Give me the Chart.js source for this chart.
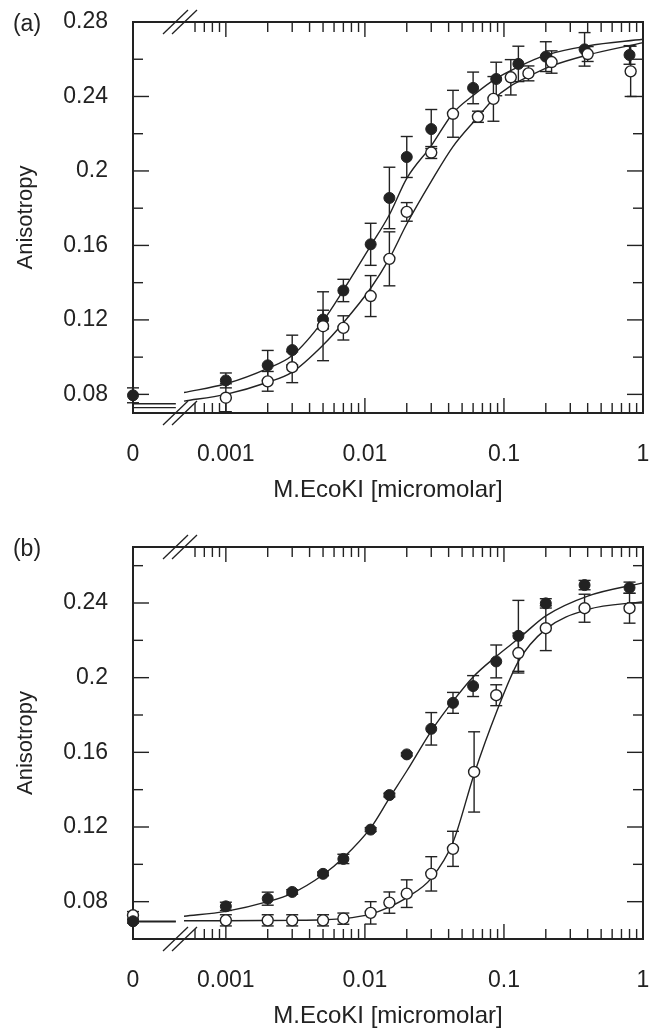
<!DOCTYPE html>
<html>
<head>
<meta charset="utf-8">
<script src="https://cdn.jsdelivr.net/npm/chart.js@4.4.1/dist/chart.umd.min.js"></script>
<style>
  html, body { margin: 0; padding: 0; background: #fff; }
  canvas { display: block; }
</style>
</head>
<body>
<canvas id="panelA" width="650" height="514"></canvas>
<canvas id="panelB" width="650" height="514"></canvas>
<script>
// anisotropy vs M.EcoKI concentration, two titrations (a) and (b)
var ink = '#222';
var fontFamily = "'Liberation Sans', Arial, Helvetica, sans-serif";

// x axis: the zero point gets its own short axis, the rest is log
var logMin = 0.0005, logMax = 1;
var xMajor = [0.001, 0.01, 0.1, 1];
var xMinorSteps = [2, 3, 4, 5, 6, 7, 8, 9];
var zeroLineEnd = 0.84; // fitted baseline at 0 stops here (x0 axis units)

// ---- panel (a) ----
var filledConcA = [0, 0.001, 0.002, 0.003, 0.005, 0.007, 0.011, 0.015, 0.02, 0.03, 0.06, 0.088, 0.127, 0.2, 0.38, 0.8];
var filledValA  = [0.0795, 0.0875, 0.0956, 0.1038, 0.1202, 0.1358, 0.1606, 0.1855, 0.2075, 0.2225, 0.2446, 0.2494, 0.2575, 0.2614, 0.2653, 0.2623];
var filledErrA  = [0.004, 0.004, 0.008, 0.008, 0.005, 0.006, 0.0113, 0.0165, 0.011, 0.0105, 0.0085, 0.009, 0.0095, 0.008, 0.009, 0.005];

var openConcA = [0.001, 0.002, 0.003, 0.005, 0.007, 0.011, 0.015, 0.02, 0.03, 0.043, 0.065, 0.084, 0.112, 0.15, 0.22, 0.4, 0.815];
var openValA  = [0.0782, 0.087, 0.0946, 0.1166, 0.1157, 0.1328, 0.1528, 0.178, 0.2099, 0.2307, 0.2291, 0.2387, 0.2503, 0.2524, 0.2585, 0.2628, 0.2535];
var openErrA  = [0.0075, 0.0053, 0.0083, 0.0185, 0.0065, 0.011, 0.0145, 0.005, 0.0032, 0.0126, 0.003, 0.012, 0.0095, 0.004, 0.006, 0.004, 0.0135];

var fitFilledConcA = [0.0005, 0.001, 0.002, 0.003, 0.005, 0.007, 0.011, 0.015, 0.02, 0.03, 0.043, 0.06, 0.088, 0.13, 0.2, 0.4, 1];
var fitFilledValA  = [0.081, 0.0857, 0.094, 0.1009, 0.1195, 0.136, 0.1598, 0.1765, 0.196, 0.2135, 0.231, 0.2405, 0.2497, 0.2563, 0.2622, 0.2672, 0.2707];
var fitOpenConcA = [0.0005, 0.001, 0.002, 0.003, 0.005, 0.007, 0.011, 0.015, 0.02, 0.03, 0.043, 0.065, 0.084, 0.11, 0.15, 0.22, 0.4, 1];
var fitOpenValA  = [0.0764, 0.080, 0.0865, 0.092, 0.1065, 0.1185, 0.137, 0.153, 0.1715, 0.1944, 0.2131, 0.229, 0.2385, 0.2453, 0.2507, 0.2564, 0.2623, 0.2689];
var zeroFitA = [0.075, 0.0729]; // filled, open

var yMajorA = [0.08, 0.12, 0.16, 0.2, 0.24, 0.28];
var yMinorA = [0.1, 0.14, 0.18, 0.22, 0.26];

// ---- panel (b) ----
var filledConcB = [0, 0.001, 0.002, 0.003, 0.005, 0.007, 0.011, 0.015, 0.02, 0.03, 0.043, 0.06, 0.088, 0.127, 0.2, 0.38, 0.8];
var filledValB  = [0.0695, 0.0775, 0.0816, 0.0852, 0.0949, 0.1029, 0.1186, 0.1371, 0.1589, 0.1726, 0.1865, 0.1955, 0.2087, 0.2224, 0.2398, 0.2496, 0.2482];
var filledErrB  = [0.001, 0.0022, 0.0035, 0.0012, 0.001, 0.0025, 0.001, 0.001, 0.0008, 0.0087, 0.0056, 0.0056, 0.0088, 0.019, 0.0025, 0.0025, 0.003];

var openConcB = [0, 0.001, 0.002, 0.003, 0.005, 0.007, 0.011, 0.015, 0.02, 0.03, 0.043, 0.061, 0.088, 0.127, 0.2, 0.38, 0.8];
var openValB  = [0.0727, 0.070, 0.070, 0.070, 0.070, 0.0709, 0.074, 0.0795, 0.0843, 0.0949, 0.1083, 0.1495, 0.1906, 0.2132, 0.2265, 0.2372, 0.2372];
var openErrB  = [0.002, 0.003, 0.003, 0.003, 0.003, 0.003, 0.006, 0.0057, 0.0074, 0.0092, 0.0094, 0.0215, 0.0056, 0.0107, 0.012, 0.0075, 0.008];

var fitFilledConcB = [0.0005, 0.001, 0.002, 0.003, 0.005, 0.007, 0.011, 0.015, 0.02, 0.03, 0.043, 0.06, 0.088, 0.13, 0.2, 0.4, 1];
var fitFilledValB  = [0.0722, 0.0748, 0.080, 0.0845, 0.0944, 0.1035, 0.1195, 0.1355, 0.150, 0.1714, 0.1874, 0.2004, 0.2114, 0.2215, 0.2331, 0.2437, 0.2508];
var fitOpenConcB = [0.0005, 0.001, 0.002, 0.003, 0.005, 0.007, 0.011, 0.015, 0.02, 0.03, 0.043, 0.061, 0.088, 0.127, 0.2, 0.4, 1];
var fitOpenValB  = [0.0698, 0.0698, 0.0699, 0.070, 0.0703, 0.0709, 0.0733, 0.0772, 0.0822, 0.0925, 0.1118, 0.1483, 0.1812, 0.2087, 0.226, 0.2365, 0.2407];
var zeroFitB = [0.0695, 0.0692];

var yMajorB = [0.08, 0.12, 0.16, 0.2, 0.24];
var yMinorB = [0.1, 0.14, 0.18, 0.22, 0.26];

// minor log ticks between the decades
var xTickValues = [];
[0.0001, 0.001, 0.01, 0.1].forEach(function (dec) {
  xMinorSteps.forEach(function (m) {
    var v = m * dec;
    if (v > logMin * 1.01 && v < logMax) xTickValues.push(v);
  });
});
xTickValues = xTickValues.concat(xMajor).sort(function (a, b) { return a - b; });

function line(ctx, x1, y1, x2, y2) {
  ctx.beginPath();
  ctx.moveTo(x1, y1);
  ctx.lineTo(x2, y2);
  ctx.stroke();
}

// frame, inward ticks, axis breaks, error bars, panel letter, x title
var framePlugin = {
  id: 'frame',
  beforeDatasetsDraw: function (chart) {
    var ctx = chart.ctx, a = chart.chartArea, xs = chart.scales.x, ys = chart.scales.y;
    ctx.save();
    ctx.strokeStyle = ink;
    ctx.lineWidth = 1.4;
    xs.ticks.forEach(function (t) {
      var px = xs.getPixelForValue(t.value);
      var len = xMajor.indexOf(t.value) >= 0 ? 15 : 10;
      line(ctx, px, a.bottom, px, a.bottom - len);
      line(ctx, px, a.top, px, a.top + len);
    });
    ys.ticks.forEach(function (t) {
      var py = ys.getPixelForValue(t.value);
      var len = t.label ? 16 : 10;
      line(ctx, a.left, py, a.left + len, py);
      line(ctx, a.right, py, a.right - len, py);
    });
    ctx.lineWidth = 2;
    ctx.strokeRect(a.left, a.top, a.right - a.left, a.bottom - a.top);

    // "//" where the zero segment meets the log axis
    var bx = xs.left - 4;
    ctx.lineWidth = 1.3;
    [a.top, a.bottom].forEach(function (y) {
      [-4.5, 4.5].forEach(function (off) {
        line(ctx, bx + off - 12.5, y + 12, bx + off + 12.5, y - 12);
      });
    });

    // error bars
    ctx.lineWidth = 1.4;
    chart.data.datasets.forEach(function (ds, i) {
      if (!ds.errors) return;
      var meta = chart.getDatasetMeta(i);
      var sx = chart.scales[meta.xAxisID], sy = chart.scales[meta.yAxisID];
      ds.data.forEach(function (p, j) {
        var e = ds.errors[j];
        if (!e) return;
        var px = sx.getPixelForValue(p.x);
        var top = sy.getPixelForValue(p.y + e), bot = sy.getPixelForValue(p.y - e);
        line(ctx, px, top, px, bot);
        line(ctx, px - 6, top, px + 6, top);
        line(ctx, px - 6, bot, px + 6, bot);
      });
    });
    ctx.restore();
  },
  afterDraw: function (chart, args, opts) {
    var ctx = chart.ctx, a = chart.chartArea;
    ctx.save();
    ctx.fillStyle = ink;
    ctx.textAlign = 'center';
    ctx.textBaseline = 'middle';
    ctx.font = '24px ' + fontFamily;
    ctx.fillText('M.EcoKI [micromolar]', (a.left + a.right) / 2, a.bottom + 77);
    ctx.font = '23px ' + fontFamily;
    ctx.fillText(opts.letter, 27, a.top + 3);
    ctx.restore();
  }
};

function splitPoints(conc, vals, errs, zero) {
  var out = { data: [], errors: [] };
  conc.forEach(function (c, i) {
    if ((c === 0) === zero) {
      out.data.push({ x: c, y: vals[i] });
      out.errors.push(errs[i]);
    }
  });
  return out;
}

function markers(part, axis, filled) {
  return {
    xAxisID: axis, yAxisID: 'y',
    data: part.data, errors: part.errors,
    showLine: false,
    pointRadius: 5.5,
    pointBackgroundColor: filled ? ink : '#fff',
    pointBorderColor: ink,
    pointBorderWidth: filled ? 1 : 1.4,
    clip: false
  };
}

function curve(conc, vals) {
  return {
    xAxisID: 'x', yAxisID: 'y',
    data: conc.map(function (c, i) { return { x: c, y: vals[i] }; }),
    borderColor: ink, borderWidth: 1.4,
    pointRadius: 0,
    cubicInterpolationMode: 'monotone',
    clip: false
  };
}

function zeroLine(y) {
  return {
    xAxisID: 'x0', yAxisID: 'y',
    data: [{ x: 0, y: y }, { x: zeroLineEnd, y: y }],
    borderColor: ink, borderWidth: 1.4,
    pointRadius: 0,
    clip: false
  };
}

// label overhang must not shrink the plot box
function noPadding(s) {
  s.paddingLeft = 0; s.paddingRight = 0;
  s.paddingTop = 0; s.paddingBottom = 0;
}

function makePanel(id, p) {
  var filledSets = [
    markers(splitPoints(p.filledConc, p.filledVal, p.filledErr, false), 'x', true),
    markers(splitPoints(p.filledConc, p.filledVal, p.filledErr, true), 'x0', true)
  ];
  var openSets = [
    markers(splitPoints(p.openConc, p.openVal, p.openErr, false), 'x', false),
    markers(splitPoints(p.openConc, p.openVal, p.openErr, true), 'x0', false)
  ];
  var datasets = (p.openOnTop ? openSets.concat(filledSets) : filledSets.concat(openSets)).concat([
    curve(p.fitFilledConc, p.fitFilledVal),
    curve(p.fitOpenConc, p.fitOpenVal),
    zeroLine(p.zeroFit[0]),
    zeroLine(p.zeroFit[1])
  ]);

  var tickFont = { family: fontFamily, size: 23 };
  var yTicks = p.yMajor.concat(p.yMinor).sort(function (a, b) { return a - b; });

  return new Chart(document.getElementById(id), {
    type: 'line',
    data: { datasets: datasets },
    plugins: [framePlugin],
    options: {
      responsive: false,
      animation: false,
      events: [],
      layout: { padding: { top: p.top, right: 7, left: 0, bottom: 0 } },
      plugins: {
        legend: { display: false },
        tooltip: { enabled: false },
        frame: { letter: p.letter }
      },
      scales: {
        x0: {
          type: 'linear', position: 'bottom', stack: 'xs', stackWeight: 1, weight: 1,
          min: 0, max: 1,
          grid: { display: false, drawTicks: false },
          border: { display: false },
          afterBuildTicks: function (s) { s.ticks = [{ value: 0 }]; },
          afterFit: function (s) { s.height = p.axisHeight; noPadding(s); },
          ticks: {
            callback: function () { return '0'; },
            padding: 28, color: ink, font: tickFont, maxRotation: 0, autoSkip: false
          }
        },
        x: {
          type: 'logarithmic', position: 'bottom', stack: 'xs', stackWeight: 9, weight: 2,
          min: logMin, max: logMax,
          grid: { display: false, drawTicks: false },
          border: { display: false },
          afterBuildTicks: function (s) {
            s.ticks = xTickValues.map(function (v) { return { value: v }; });
          },
          afterFit: function (s) { s.height = p.axisHeight; noPadding(s); },
          ticks: {
            callback: function (v) { return xMajor.indexOf(v) >= 0 ? String(v) : ''; },
            padding: 28, color: ink, font: tickFont, maxRotation: 0, autoSkip: false
          }
        },
        y: {
          type: 'linear', position: 'left',
          min: p.yMin, max: p.yMax,
          grid: { display: false, drawTicks: false },
          border: { display: false },
          afterBuildTicks: function (s) {
            s.ticks = yTicks.map(function (v) { return { value: v }; });
          },
          afterFit: function (s) { s.width = 133; noPadding(s); },
          ticks: {
            callback: function (v) {
              return p.yMajor.indexOf(v) >= 0 ? String(Math.round(v * 100) / 100) : '';
            },
            padding: 25, color: ink, font: tickFont, autoSkip: false
          },
          title: {
            display: true, text: 'Anisotropy', color: ink,
            font: { family: fontFamily, size: 22 },
            padding: { top: 13, bottom: 0 }
          }
        }
      }
    }
  });
}

makePanel('panelA', {
  letter: '(a)', top: 22, axisHeight: 101, yMin: 0.07, yMax: 0.28,
  yMajor: yMajorA, yMinor: yMinorA, openOnTop: true,
  filledConc: filledConcA, filledVal: filledValA, filledErr: filledErrA,
  openConc: openConcA, openVal: openValA, openErr: openErrA,
  fitFilledConc: fitFilledConcA, fitFilledVal: fitFilledValA,
  fitOpenConc: fitOpenConcA, fitOpenVal: fitOpenValA,
  zeroFit: zeroFitA
});

makePanel('panelB', {
  letter: '(b)', top: 33, axisHeight: 89, yMin: 0.06, yMax: 0.27,
  yMajor: yMajorB, yMinor: yMinorB, openOnTop: false,
  filledConc: filledConcB, filledVal: filledValB, filledErr: filledErrB,
  openConc: openConcB, openVal: openValB, openErr: openErrB,
  fitFilledConc: fitFilledConcB, fitFilledVal: fitFilledValB,
  fitOpenConc: fitOpenConcB, fitOpenVal: fitOpenValB,
  zeroFit: zeroFitB
});
</script>
</body>
</html>
